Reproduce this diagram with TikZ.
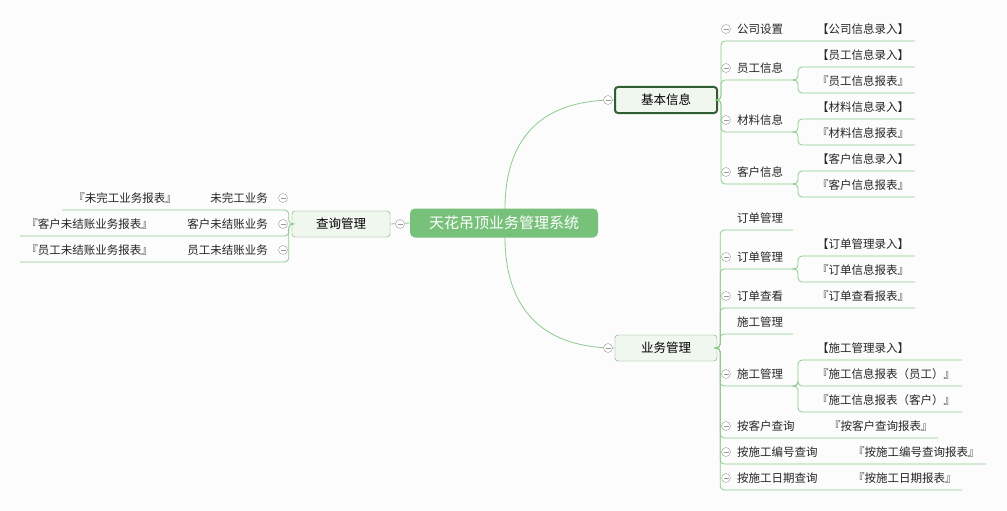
\documentclass[tikz,border=0pt]{standalone}
\usepackage{fontspec}
\setmainfont{Noto Sans CJK SC}
\usetikzlibrary{positioning}
\definecolor{lineg}{HTML}{8CCB8E}
\definecolor{rootg}{HTML}{77C17A}
\definecolor{boxf}{HTML}{F0F7EF}
\definecolor{darkg}{HTML}{2F5E33}
\begin{document}
\begin{tikzpicture}[ x = 1pt, y = -1pt
                   , font = \fontsize{11.5}{13}\selectfont
                   , ln/.style = { draw = lineg, line width = 0.8pt }
                   , br/.style = { ln, rounded corners = 4pt }
                   , lbl/.style = { anchor = west, inner sep = 0pt, text = black!85 }
                   , lbr/.style = { anchor = east, inner sep = 0pt, text = black!85 }
                   , fold/.style = { circle, draw = gray!80, fill = white, inner sep = 0pt
                                   , minimum size = 9pt
                                   , path picture = {\draw[gray!80] ([xshift=-2.5pt]path picture bounding box.center)
                                                     -- ([xshift=2.5pt]path picture bounding box.center);} }
                   , topic/.style = { rectangle, rounded corners = 3pt, draw = lineg!80!black
                                    , fill = boxf, minimum width = 102pt, minimum height = 26pt
                                    , font = \fontsize{12.5}{14}\selectfont }
                   ]
  \useasboundingbox[fill = black!1] (0,0) rectangle (1007,511);

  % main topics
  \node (root) [rectangle, rounded corners = 5pt, fill = rootg, text = white
               , minimum width = 188pt, minimum height = 29pt
               , font = \fontsize{15}{17}\selectfont] at (504,223) {天花吊顶业务管理系统};
  \node (jb) [topic, draw = darkg, line width = 2pt] at (666,100) {基本信息};
  \node (yw) [topic] at (666,348) {业务管理};
  \node (cx) [topic, minimum width = 98pt] at (341,224) {查询管理};

  \draw[ln] (505,209) .. controls (505,130) and (550,100) .. (jb.west);
  \draw[ln] (505,237) .. controls (505,316) and (550,348) .. (yw.west);
  \draw[ln] (root.west) -- (cx.east);
  \node (fjb) [fold] at (608,100) {};
  \node (fyw) [fold] at (608,348) {};
  \node (fcx) [fold] at (400,224) {};

  % query branch (left)
  \coordinate (q1) at (62,210);  \coordinate (q2) at (20,236);  \coordinate (q3) at (20,262);
  \draw[br] (cx.west) -- ++(-3,0) |- (q1);
  \draw[br] (cx.west) -- ++(-3,0) |- (q2);
  \draw[br] (cx.west) -- ++(-3,0) |- (q3);
  \node (qa) [lbr] at (268,198) {未完工业务};
  \node (qb) [lbr] at (268,224) {客户未结账业务};
  \node (qc) [lbr] at (268,250) {员工未结账业务};
  \node (qal) [lbr] at (177,198) {『未完工业务报表』};
  \node (qbl) [lbr] at (153,224) {『客户未结账业务报表』};
  \node (qcl) [lbr] at (153,250) {『员工未结账业务报表』};
  \foreach \y in {198,224,250} \node [fold] at (283,\y) {};

  % basic information
  \coordinate (b1) at (915,41);  \coordinate (b2) at (795,80);
  \coordinate (b3) at (795,132); \coordinate (b4) at (795,184);
  \foreach \c in {b1,b2,b3,b4} \draw[br] (jb.east) -- ++(3,0) |- (\c);
  \foreach \y in {67,93,119,145,171,197} \coordinate (leaf\y) at (915,\y);
  \draw[br] (b2) -- ++(3,0) |- (leaf67);   \draw[br] (b2) -- ++(3,0) |- (leaf93);
  \draw[br] (b3) -- ++(3,0) |- (leaf119);  \draw[br] (b3) -- ++(3,0) |- (leaf145);
  \draw[br] (b4) -- ++(3,0) |- (leaf171);  \draw[br] (b4) -- ++(3,0) |- (leaf197);
  \foreach \y/\t in {29/公司设置, 68/员工信息, 120/材料信息, 172/客户信息}
  { \node [fold] at (726,\y) {}; \node [lbl] at (737,\y) {\t}; }
  \foreach \y/\t in {29/【公司信息录入】, 55/【员工信息录入】, 81/『员工信息报表』,
                     107/【材料信息录入】, 133/『材料信息报表』,
                     159/【客户信息录入】, 185/『客户信息报表』}
    \node [lbl] at (817,\y) {\t};

  % business management
  \coordinate (y1) at (793,230); \coordinate (y2) at (795,269); \coordinate (y3) at (915,308);
  \coordinate (y4) at (793,334); \coordinate (y5) at (795,386); \coordinate (y6) at (938,438);
  \coordinate (y7) at (986,464); \coordinate (y8) at (962,490);
  \foreach \c in {y1,y2,y3,y4,y5,y6,y7,y8} \draw[br] (yw.east) -- ++(3,0) |- (\c);
  \foreach \y/\e in {256/915,282/915,360/962,386/962,412/962} \coordinate (leaf\y) at (\e,\y);
  \draw[br] (y2) -- ++(3,0) |- (leaf256);  \draw[br] (y2) -- ++(3,0) |- (leaf282);
  \draw[br] (y5) -- ++(3,0) |- (leaf360);  \draw[br] (y5) -- ++(3,0) |- (leaf386);
  \draw[br] (y5) -- ++(3,0) |- (leaf412);
  \node [lbl] at (737,218) {订单管理};
  \node [lbl] at (737,322) {施工管理};
  \foreach \y/\t in {257/订单管理, 296/订单查看, 374/施工管理, 426/按客户查询,
                     452/按施工编号查询, 478/按施工日期查询}
  { \node [fold] at (726,\y) {}; \node [lbl] at (737,\y) {\t}; }
  \foreach \x/\y/\t in {817/244/【订单管理录入】, 817/270/『订单信息报表』, 817/296/『订单查看报表』,
                        817/348/【施工管理录入】, 817/374/『施工信息报表（员工）』,
                        817/400/『施工信息报表（客户）』, 829/426/『按客户查询报表』,
                        853/452/『按施工编号查询报表』, 853/478/『按施工日期报表』}
    \node [lbl] at (\x,\y) {\t};

\end{tikzpicture}
\end{document}
